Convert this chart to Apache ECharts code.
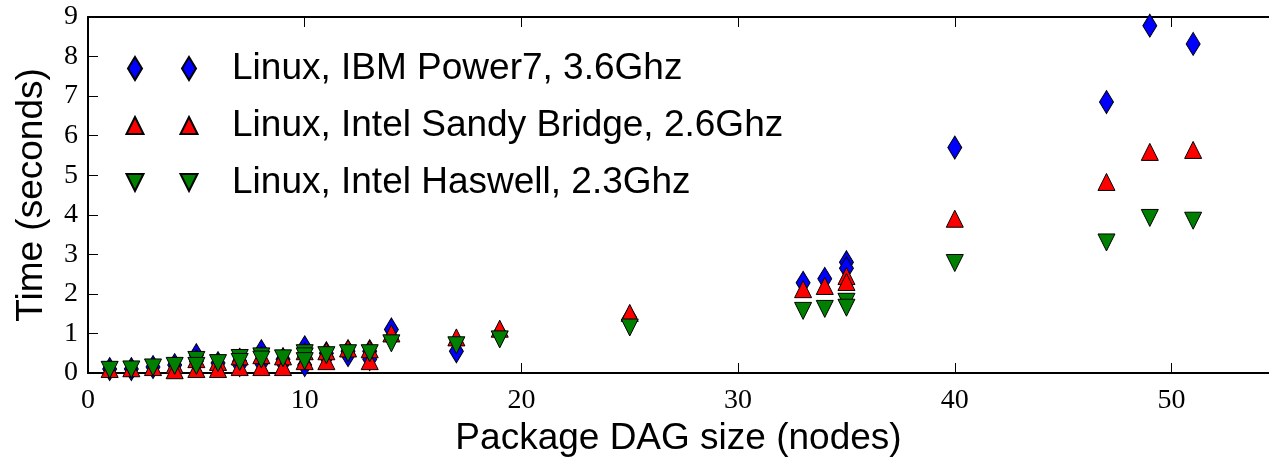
<!DOCTYPE html>
<html>
<head>
<meta charset="utf-8">
<script src="https://cdn.jsdelivr.net/npm/echarts@6/dist/echarts.min.js"></script>
<style>
  html, body { margin: 0; padding: 0; background: #fff; }
  #main { width: 1269px; height: 465px; }
</style>
</head>
<body>
<div id="main"></div>
<script>
// [dag size, seconds]
var power7Pts = [
  [1, 0.1], [2, 0.1], [3, 0.15], [4, 0.2], [5, 0.45], [5, 0.3], [6, 0.25],
  [7, 0.3], [7, 0.2], [8, 0.55], [8, 0.25], [9, 0.35], [9, 0.25],
  [10, 0.65], [10, 0.45], [10, 0.2], [11, 0.5], [11, 0.4], [12, 0.55], [12, 0.45],
  [13, 0.55], [13, 0.35], [14, 1.1], [17, 0.55], [19, 1.0], [25, 1.4],
  [33, 2.28], [34, 2.38], [35, 2.8], [35, 2.65], [40, 5.7], [47, 6.85], [49, 8.78], [51, 8.32]
];
var sandyPts = [
  [1, 0.1], [2, 0.12], [3, 0.15], [4, 0.2], [4, 0.07], [5, 0.35], [5, 0.1],
  [6, 0.28], [6, 0.1], [7, 0.42], [7, 0.15], [8, 0.45], [8, 0.15], [9, 0.42], [9, 0.15],
  [10, 0.55], [10, 0.3], [11, 0.55], [11, 0.3], [12, 0.62], [13, 0.6], [13, 0.3],
  [14, 1.0], [17, 0.9], [19, 1.12], [25, 1.52], [33, 2.12], [34, 2.2], [35, 2.45], [35, 2.3],
  [40, 3.9], [47, 4.83], [49, 5.59], [51, 5.64]
];
var haswellPts = [
  [1, 0.08], [2, 0.09], [3, 0.14], [4, 0.18], [5, 0.33], [5, 0.18], [6, 0.25],
  [7, 0.38], [7, 0.28], [8, 0.42], [8, 0.34], [9, 0.37], [10, 0.5], [10, 0.42], [10, 0.3],
  [11, 0.45], [12, 0.5], [13, 0.5], [14, 0.75], [17, 0.7], [19, 0.85], [25, 1.15],
  [33, 1.57], [34, 1.62], [35, 1.8], [35, 1.65], [40, 2.78], [47, 3.3], [49, 3.92], [51, 3.85]
];
var seriesNames = ['Linux, IBM Power7, 3.6Ghz', 'Linux, Intel Sandy Bridge, 2.6Ghz', 'Linux, Intel Haswell, 2.3Ghz'];

// legend icons: two markers per entry like matplotlib numpoints=2
var pad = ' M0 0 M130 23';
var iconDiamond = 'path://M38 0 L45 11.5 L38 23 L31 11.5 Z M92 0 L99 11.5 L92 23 L85 11.5 Z' + pad;
var iconUp = 'path://M38 3 L46.5 20 L29.5 20 Z M92 3 L100.5 20 L83.5 20 Z' + pad;
var iconDown = 'path://M29.5 3 L46.5 3 L38 20 Z M83.5 3 L100.5 3 L92 20 Z' + pad;

var serif = 'Liberation Serif';
var sans = 'Liberation Sans';

var myChart = echarts.init(document.getElementById('main'));
var option = {
  animation: false,
  backgroundColor: '#fff',
  grid: { left: 88, top: 17, right: 0, bottom: 92 },
  legend: {
    orient: 'vertical',
    left: 91,
    top: 45,
    itemWidth: 130,
    itemHeight: 23,
    itemGap: 20,
    textStyle: { fontFamily: sans, fontSize: 37, color: '#000', lineHeight: 23 },
    data: [
      { name: seriesNames[0], icon: iconDiamond },
      { name: seriesNames[1], icon: iconUp },
      { name: seriesNames[2], icon: iconDown }
    ]
  },
  xAxis: [
    {
      type: 'value', min: 0, max: 54.5, interval: 10,
      name: 'Package DAG size (nodes)', nameLocation: 'middle', nameGap: 45,
      nameTextStyle: { fontFamily: sans, fontSize: 37, color: '#000' },
      axisLine: { lineStyle: { color: '#000', width: 2 } },
      axisTick: { inside: true, length: 10, lineStyle: { color: '#000', width: 1 } },
      axisLabel: {
        fontFamily: serif, fontSize: 28, color: '#000', margin: 14, showMaxLabel: false,
        formatter: function (v) { return v % 10 === 0 ? String(v) : ''; }
      },
      splitLine: { show: false }
    },
    {
      type: 'value', min: 0, max: 54.5, interval: 10, position: 'top',
      axisLine: { lineStyle: { color: '#000', width: 2 } },
      axisTick: { inside: true, length: 10, lineStyle: { color: '#000', width: 1 } },
      axisLabel: { show: false },
      splitLine: { show: false }
    }
  ],
  yAxis: {
    type: 'value', min: 0, max: 9, interval: 1,
    name: 'Time (seconds)', nameLocation: 'middle', nameGap: 38,
    nameTextStyle: { fontFamily: sans, fontSize: 37, color: '#000' },
    axisLine: { show: true, lineStyle: { color: '#000', width: 2 } },
    axisTick: { show: true, inside: true, length: 10, lineStyle: { color: '#000', width: 1 } },
    axisLabel: { fontFamily: serif, fontSize: 28, color: '#000', margin: 10 },
    splitLine: { show: false }
  },
  series: [
    {
      name: seriesNames[0], type: 'scatter', data: power7Pts,
      symbol: 'diamond', symbolSize: [14, 23],
      itemStyle: { color: '#0000ff', borderColor: '#000', borderWidth: 1, opacity: 1 }
    },
    {
      name: seriesNames[1], type: 'scatter', data: sandyPts,
      symbol: 'triangle', symbolSize: [17, 17],
      itemStyle: { color: '#ff0000', borderColor: '#000', borderWidth: 1, opacity: 1 }
    },
    {
      name: seriesNames[2], type: 'scatter', data: haswellPts,
      symbol: 'triangle', symbolRotate: 180, symbolSize: [17, 17],
      itemStyle: { color: '#008000', borderColor: '#000', borderWidth: 1, opacity: 1 }
    }
  ]
};
myChart.setOption(option);
</script>
</body>
</html>
